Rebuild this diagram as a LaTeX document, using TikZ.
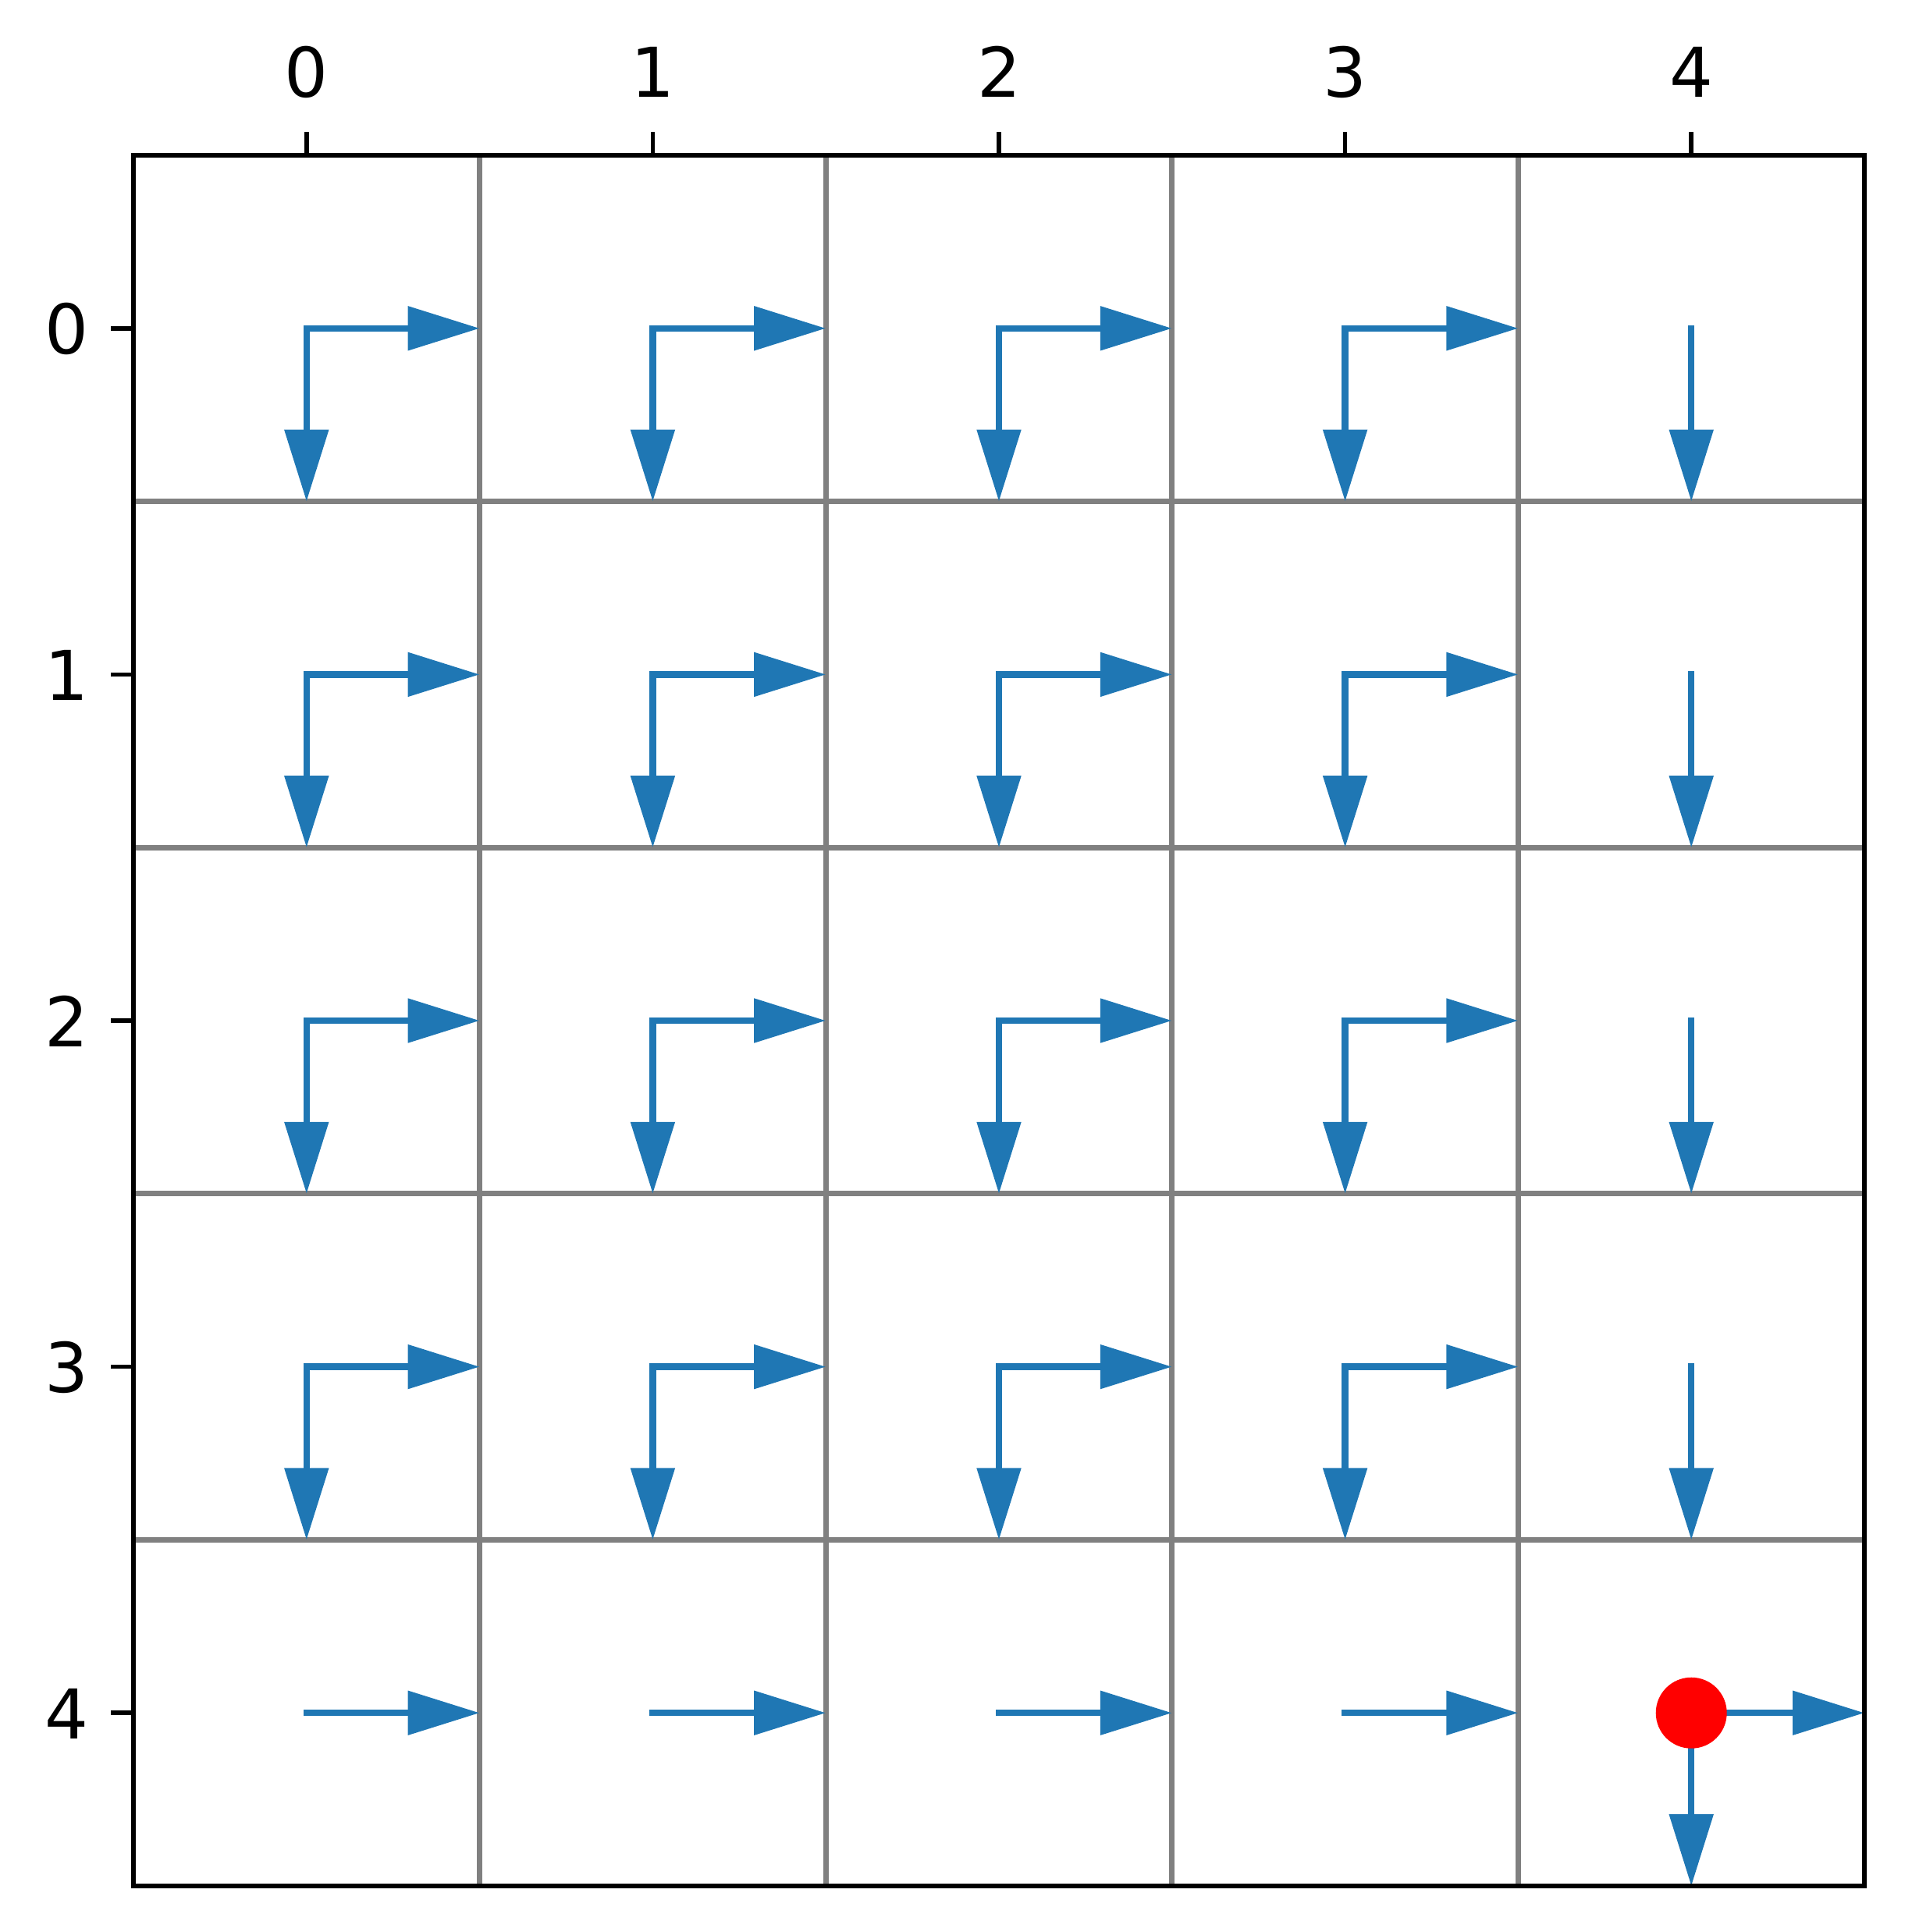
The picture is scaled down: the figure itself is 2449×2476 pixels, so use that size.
\documentclass[tikz,border=0pt]{standalone}
\usepackage{fontspec}
\setmainfont{DejaVu Sans}
\usetikzlibrary{arrows.meta}
\definecolor{mplblue}{RGB}{31,119,180}
\definecolor{gridgray}{RGB}{128,128,128}
\begin{document}
\begin{tikzpicture}[x=0.1pt,y=-0.1pt,
  spine/.style={line width=0.57pt, black},
  gridline/.style={line width=0.7pt, gridgray},
  policy/.style={mplblue, line width=0.85pt, line cap=rect, -{Triangle[length=9.2pt,width=5.5pt]}},
  ticklbl/.style={font=\fontsize{8.8pt}{10pt}\selectfont, inner sep=0pt},
  goal/.style={circle, fill=red, inner sep=0pt, minimum size=9.1pt}]
\useasboundingbox (0,0) rectangle (2449,2476);
% coordinates of cell centres and arrow ends
\foreach \i in {0,...,4}{
  \foreach \j in {0,...,4}{
    \coordinate (c\i\j) at ({171+443.6*(\j+0.5)},{199+443.6*(\i+0.5)});
    \coordinate (e\i\j) at ({171+443.6*(\j+1)},{199+443.6*(\i+0.5)});
    \coordinate (s\i\j) at ({171+443.6*(\j+0.5)},{199+443.6*(\i+1)});
  }
}
% grid
\foreach \k in {1,...,4}{
  \draw[gridline] ({171+443.6*\k},199) -- ({171+443.6*\k},2417);
  \draw[gridline] (171,{199+443.6*\k}) -- (2389,{199+443.6*\k});
}
% arrows: right
\foreach \i in {0,...,4}{
  \foreach \j in {0,...,3}{
    \draw[policy] (c\i\j) -- (e\i\j);
  }
}
\draw[policy] (c44) -- (e44);
% arrows: down
\foreach \j in {0,...,4}{
  \foreach \i in {0,...,3}{
    \draw[policy] (c\i\j) -- (s\i\j);
  }
}
\draw[policy] (c44) -- (s44);
% goal marker
\node[goal] (goal) at (c44) {};
% spines
\draw[spine] (171,199) rectangle (2389,2417);
% ticks and labels
\foreach \k in {0,...,4}{
  \draw[spine] ({171+443.6*(\k+0.5)},199) -- ({171+443.6*(\k+0.5)},169);
  \node[ticklbl, anchor=base] (tx\k) at ({171+443.6*(\k+0.5)},125) {\k};
  \draw[spine] (171,{199+443.6*(\k+0.5)}) -- (142,{199+443.6*(\k+0.5)});
  \node[ticklbl, anchor=east] (ty\k) at (115,{200+443.6*(\k+0.5)}) {\k};
}
\end{tikzpicture}
\end{document}
